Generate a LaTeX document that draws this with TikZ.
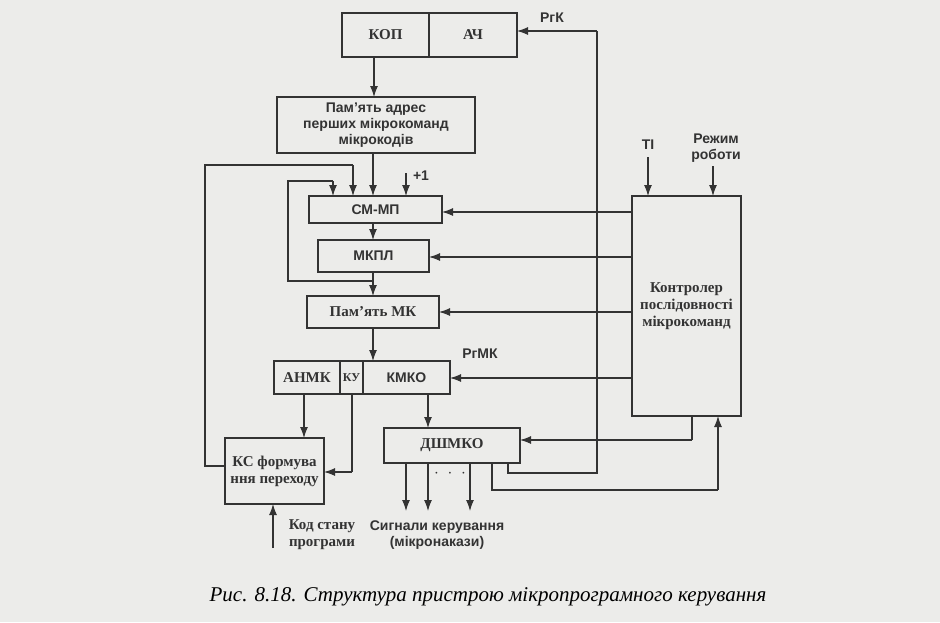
\documentclass[tikz,border=0pt]{standalone}
\usepackage{fontspec}
\setmainfont{Liberation Serif}
\setsansfont{Liberation Sans}
\usetikzlibrary{arrows.meta}
\definecolor{ink}{HTML}{333333}
\definecolor{paper}{HTML}{ECECEA}
\begin{document}
\begin{tikzpicture}[x=1pt,y=-1pt,
  box/.style={draw=ink,line width=1.1pt,inner sep=0pt,align=center,text=ink},
  sbox/.style={box,font=\sffamily\bfseries\fontsize{14}{16}\selectfont},
  rbox/.style={box,font=\rmfamily\bfseries\fontsize{15}{17}\selectfont},
  ln/.style={draw=ink,line width=1.1pt},
  arr/.style={ln,-{Latex[length=11pt,width=8pt]}},
  lbls/.style={text=ink,font=\sffamily\bfseries\fontsize{14}{16}\selectfont,align=center,inner sep=0pt},
  lblr/.style={text=ink,font=\rmfamily\bfseries\fontsize{15}{17}\selectfont,align=center,inner sep=0pt}]
\fill[paper] (0,0) rectangle (940,622);
\useasboundingbox (0,0) rectangle (940,622);
% boxes
\node[rbox,minimum width=87pt,minimum height=44pt] (kop) at (385.5,35) {КОП};
\node[rbox,minimum width=88pt,minimum height=44pt] (ach) at (473,35) {АЧ};
\node[sbox,minimum width=198pt,minimum height=56pt] (addr) at (376,125) {Пам'ять адрес\\перших мікрокоманд\\мікрокодів};
\node[sbox,minimum width=133pt,minimum height=27pt] (smmp) at (375.5,209.5) {СМ-МП};
\node[sbox,minimum width=111pt,minimum height=32pt] (mkpl) at (373.5,256) {МКПЛ};
\node[rbox,minimum width=132pt,minimum height=32pt] (pmk) at (373,312) {Пам'ять МК};
\node[rbox,minimum width=66pt,minimum height=33pt] (anmk) at (307,377.5) {АНМК};
\node[rbox,minimum width=23pt,minimum height=33pt,font=\rmfamily\bfseries\fontsize{12}{14}\selectfont] (ku) at (351.5,377.5) {КУ};
\node[sbox,minimum width=87pt,minimum height=33pt] (kmko) at (406.5,377.5) {КМКО};
\node[rbox,minimum width=99pt,minimum height=66pt] (ks) at (274.5,471) {КС формува\\ння переходу};
\node[rbox,minimum width=136pt,minimum height=35pt] (dsh) at (452,445.5) {ДШМКО};
\node[rbox,minimum width=109pt,minimum height=220pt] (ctrl) at (686.5,306) {Контролер\\послідовності\\мікрокоманд};
% labels
\node[lbls] (lrgk) at (552,18) {РгК};
\node[lbls] (lp1) at (421,176) {+1};
\node[lbls] (lti) at (648,145) {ТІ};
\node[lbls] (lrej) at (716,148) {Режим\\роботи};
\node[lbls] (lrgmk) at (480,354) {РгМК};
\node[lblr] (lkod) at (322,535) {Код стану\\програми};
\node[lbls] (lsig) at (437,535) {Сигнали керування\\(мікронакази)};
\node[text=ink,font=\bfseries\fontsize{16}{16}\selectfont] (dots) at (450,474) {$\cdot\;\cdot\;\cdot$};
\node[text=black,font=\rmfamily\itshape\fontsize{21}{24}\selectfont,inner sep=0pt] (cap) at (488,597) {Рис. 8.18. Структура пристрою мікропрограмного керування};
% connectors
\draw[arr] (374,57) -- (374,97);
\draw[arr] (373,153) -- (373,196);
\draw[arr] (406,173) -- (406,196);
\draw[arr] (373,223) -- (373,240);
\draw[arr] (373,272) -- (373,296);
\draw[arr] (373,328) -- (373,361);
\draw[ln] (373,281) -- (288,281) -- (288,181) -- (333,181);
\draw[arr] (333,181) -- (333,196);
\draw[ln] (225,466) -- (205,466) -- (205,165) -- (353,165);
\draw[arr] (353,165) -- (353,196);
\draw[arr] (304,394) -- (304,438);
\draw[ln] (352,394) -- (352,472);
\draw[arr] (352,472) -- (324,472);
\draw[arr] (273,548) -- (273,504);
\draw[arr] (428,394) -- (428,428);
\draw[arr] (406,463) -- (406,511);
\draw[arr] (428,463) -- (428,511);
\draw[arr] (470,463) -- (470,511);
% controller outputs
\draw[arr] (632,212) -- (442,212);
\draw[arr] (632,257) -- (429,257);
\draw[arr] (632,312) -- (439,312);
\draw[arr] (632,378) -- (450,378);
\draw[ln] (692,416) -- (692,440);
\draw[arr] (692,440) -- (520,440);
% feedback
\draw[ln] (508,463) -- (508,473) -- (597,473) -- (597,31);
\draw[arr] (597,31) -- (517,31);
\draw[ln] (492,463) -- (492,490) -- (718,490);
\draw[arr] (718,490) -- (718,416);
\draw[arr] (648,157) -- (648,196);
\draw[arr] (713,166) -- (713,196);
\end{tikzpicture}
\end{document}
